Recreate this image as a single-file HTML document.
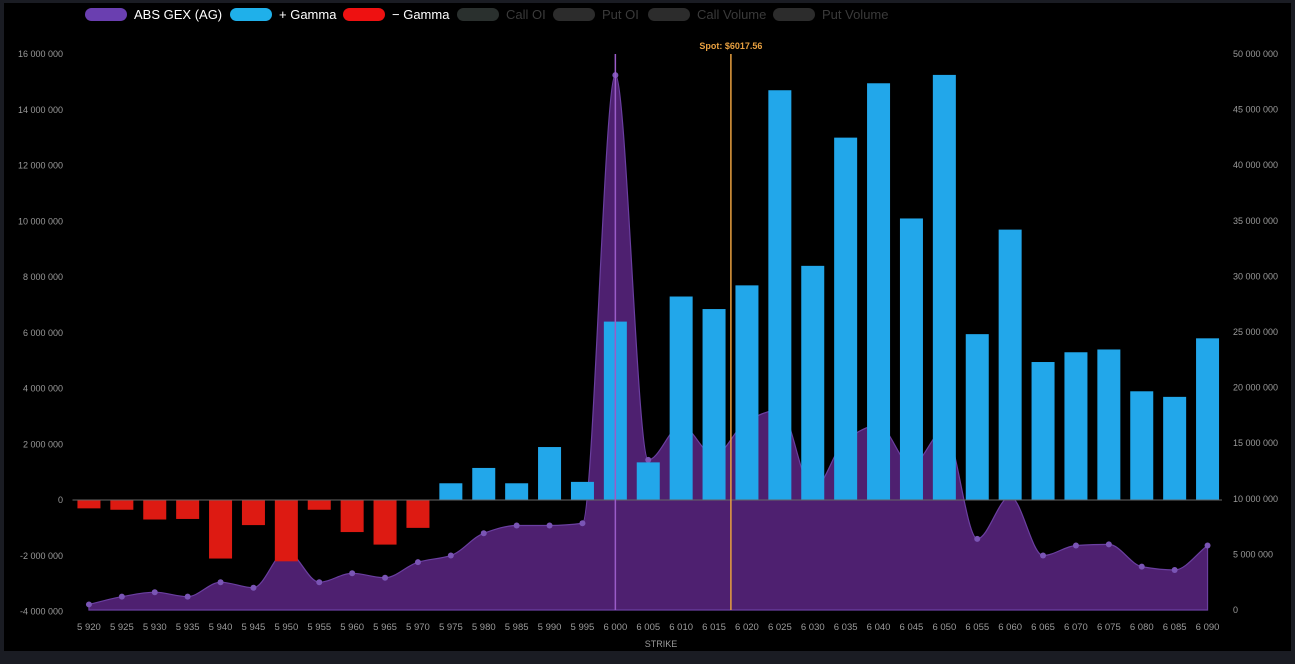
<!DOCTYPE html>
<html><head><meta charset="utf-8"><style>
html,body{margin:0;padding:0;background:#1a1c23;}
body{width:1295px;height:659px;overflow:hidden;font-family:"Liberation Sans",sans-serif;}
svg text{font-family:"Liberation Sans",sans-serif;}
</style></head><body>
<svg id="chart" width="1295" height="659">
<rect x="4" y="3" width="1287" height="648" fill="#000"/>
<g id="legend"></g>
<g id="plot"></g>
</svg>
<script>
const strikes=[5920,5925,5930,5935,5940,5945,5950,5955,5960,5965,5970,5975,5980,5985,5990,5995,6000,6005,6010,6015,6020,6025,6030,6035,6040,6045,6050,6055,6060,6065,6070,6075,6080,6085,6090];
const gammaValues=[-0.3,-0.35,-0.7,-0.68,-2.1,-0.9,-2.2,-0.35,-1.15,-1.6,-1.0,0.6,1.15,0.6,1.9,0.65,6.4,1.35,7.3,6.85,7.7,14.7,8.4,13.0,14.95,10.1,15.25,5.95,9.7,4.95,5.3,5.4,3.9,3.7,5.8];
const absGexValues=[0.5,1.2,1.6,1.2,2.5,2.0,5.3,2.5,3.3,2.9,4.3,4.9,6.9,7.6,7.6,7.8,48.1,13.5,16.6,13.9,17.0,18.0,10.8,15.3,16.6,13.0,16.2,6.4,10.2,4.9,5.8,5.9,3.9,3.6,5.8];
const leftTicks=[16,14,12,10,8,6,4,2,0,-2,-4];
const rightTicks=[50,45,40,35,30,25,20,15,10,5,0];
const spotPrice=6017.56;
const legendItems=[["ABS GEX (AG)","#6a3fb0","#fff"],["+ Gamma","#1fb0ea","#fff"],["− Gamma","#ee1111","#fff"],["Call OI","#2a302e","#3a3a3a"],["Put OI","#2c2c2c","#3a3a3a"],["Call Volume","#2c2c2c","#3a3a3a"],["Put Volume","#2c2c2c","#3a3a3a"]];
const legendX=[85,230,343,457,553,648,773];

const NS="http://www.w3.org/2000/svg";
const X0=72.5,X1=1224,BW=(X1-X0)/strikes.length;
const xC=i=>X0+BW*(i+0.5);
const xS=s=>xC(0)+(s-strikes[0])/5*BW;
const yL=v=>500-v*27.875;
const yR=v=>610-v*11.12;
function mk(t,a,p){const e=document.createElementNS(NS,t);for(const k in a)e.setAttribute(k,a[k]);(p||document.getElementById('plot')).appendChild(e);return e;}
const fmt=n=>{const s=Math.abs(n).toString().replace(/\B(?=(\d{3})+(?!\d))/g,' ');return (n<0?'-':'')+s;};

// legend
const lg=document.getElementById('legend');
legendItems.forEach((it,i)=>{
  const g=mk('g',{},lg);
  
  
  mk('rect',{x:legendX[i],y:8,width:42,height:13,rx:6.5,fill:it[1]},g);
  const t=mk('text',{x:legendX[i]+49,y:19,'font-size':13,fill:it[2],textLength:0},g);t.removeAttribute('textLength');t.textContent=it[0];
});

// ticks
leftTicks.forEach(v=>{const t=mk('text',{x:63,y:yL(v)+3,'font-size':9,fill:'#9a9a9a','text-anchor':'end'});t.textContent=fmt(v*1000000);});
rightTicks.forEach(v=>{const t=mk('text',{x:1233,y:yR(v)+3,'font-size':9,fill:'#9a9a9a'});t.textContent=fmt(v*1000000);});
strikes.forEach((s,i)=>{const t=mk('text',{x:xC(i),y:630,'font-size':9.5,fill:'#9a9a9a','text-anchor':'middle'});t.textContent=fmt(s);});
{const t=mk('text',{x:661,y:647,'font-size':9,fill:'#9a9a9a','text-anchor':'middle'});t.textContent='STRIKE';}

// area (monotone cubic)
const pts=absGexValues.map((v,i)=>[xC(i),yR(v)]);
const n=pts.length,dx=BW;
const sl=[];for(let i=0;i<n-1;i++)sl.push((pts[i+1][1]-pts[i][1])/dx);
const m=[];for(let i=0;i<n;i++){
  if(i===0)m.push(sl[0]);else if(i===n-1)m.push(sl[n-2]);
  else{const a=sl[i-1],b=sl[i];m.push(a*b<=0?0:2/(1/a+1/b));}
}
let d=`M${pts[0][0]},${yR(0)} L${pts[0][0]},${pts[0][1]}`;
for(let i=0;i<n-1;i++){
  const p1=pts[i],p2=pts[i+1];
  d+=` C${p1[0]+dx/3},${p1[1]+m[i]*dx/3} ${p2[0]-dx/3},${p2[1]-m[i+1]*dx/3} ${p2[0]},${p2[1]}`;
}
d+=` L${pts[n-1][0]},${yR(0)} Z`;
const area=mk('path',{d:d,fill:'#4e2070',stroke:'#6a3fa0','stroke-width':1.2});


pts.forEach(p=>{const c=mk('circle',{cx:p[0],cy:p[1],r:3,fill:'#7a55b5'});});

// bars
gammaValues.forEach((v,i)=>{
  const y0=yL(0),y1=yL(v);
  const r=mk('rect',{x:xC(i)-11.5,y:Math.min(y0,y1),width:23,height:Math.abs(y1-y0),fill:v>=0?'#22a7ea':'#dd1a12'});
  
  
});
const zl=mk('line',{x1:X0,x2:X1-2,y1:yL(0),y2:yL(0),stroke:'#666','stroke-width':1});



// 6000 peak line
const pl=mk('line',{x1:xS(6000),x2:xS(6000),y1:54,y2:610,stroke:'#9a5cc8','stroke-width':1.5});


// spot line
const sp=mk('line',{x1:xS(spotPrice),x2:xS(spotPrice),y1:54,y2:610,stroke:'#e8a040','stroke-width':1.5});


const st=mk('text',{x:xS(spotPrice),y:49,'font-size':9,fill:'#e8a040','text-anchor':'middle','font-weight':'bold'});


st.textContent='Spot: $'+spotPrice;
</script>
</body></html>
